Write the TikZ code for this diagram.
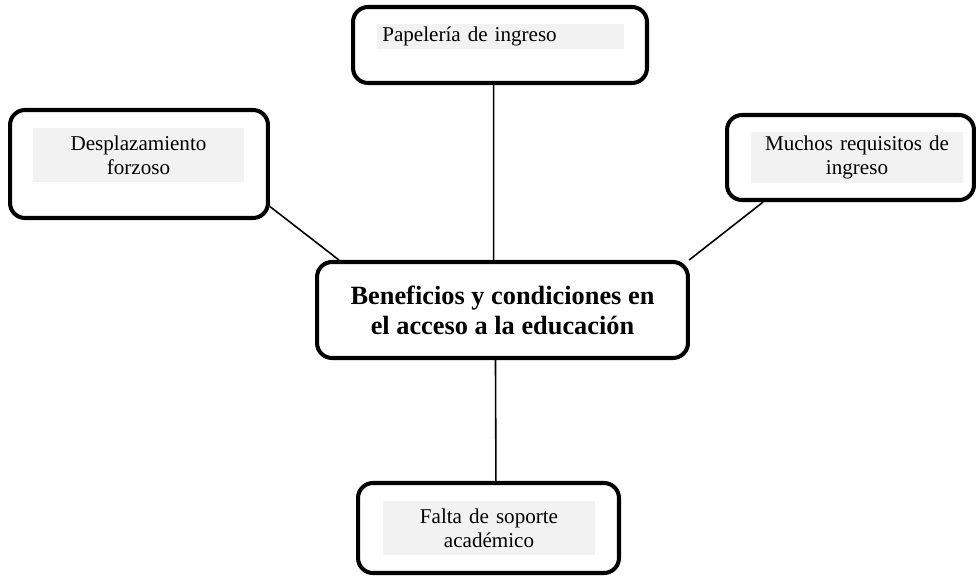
\documentclass[tikz,border=0pt]{standalone}
\usepackage{fontspec}
\setmainfont{Liberation Serif}
\usepackage{tikz}
\definecolor{etiq}{HTML}{F2F2F2}

\begin{document}
\begin{tikzpicture}[x=0.02cm, y=-0.02cm,
    caja/.style={draw, line width=2.3pt, rounded corners=0.3cm, inner sep=0pt},
    etiqueta/.style={fill=etiq, inner sep=0pt, font=\fontsize{12}{13.6}\selectfont},
    linea/.style={line width=0.9pt}]
    \useasboundingbox (0,0) rectangle (976,575);

    % Define nodes
    \node[caja, minimum width=7.42cm, minimum height=1.92cm] (centro) at (502.5,310) {};
    \node[font=\bfseries\fontsize{15}{17}\selectfont, align=center] (centrotxt) at (502.5,310)
        {Beneficios y condiciones en\\el acceso a la educación};

    \node[caja, minimum width=5.16cm, minimum height=2.16cm] (desp) at (139,164) {};
    \node[etiqueta, text width=4.22cm, minimum height=1.08cm, align=center] (desptxt) at (138.5,155)
        {Desplazamiento\\forzoso};

    \node[caja, minimum width=5.88cm, minimum height=1.52cm] (papel) at (500,45) {};
    \node[etiqueta, text width=4.94cm, minimum height=0.5cm, align=left] (papeltxt) at (500.5,36.5)
        {\hspace{3pt}Papelería de ingreso};

    \node[caja, minimum width=4.94cm, minimum height=1.70cm] (req) at (850.5,157.5) {};
    \node[etiqueta, text width=4.24cm, minimum height=1.02cm, align=center] (reqtxt) at (857,157.5)
        {Muchos requisitos de\\ingreso};

    \node[caja, minimum width=5.22cm, minimum height=1.80cm] (falta) at (488.5,528) {};
    \node[etiqueta, text width=4.24cm, minimum height=1.08cm, align=center] (faltatxt) at (489,528)
        {Falta de soporte\\académico};

    % Draw edges
    \draw[linea] (desp.-18) -- (centro.163);
    \draw[linea] (papel.-99) -- (centro.100);
    \draw[linea] (req.207) -- (centro.15);
    \draw[linea] (centro.-98.5) -- (falta.81);
\end{tikzpicture}
\end{document}
